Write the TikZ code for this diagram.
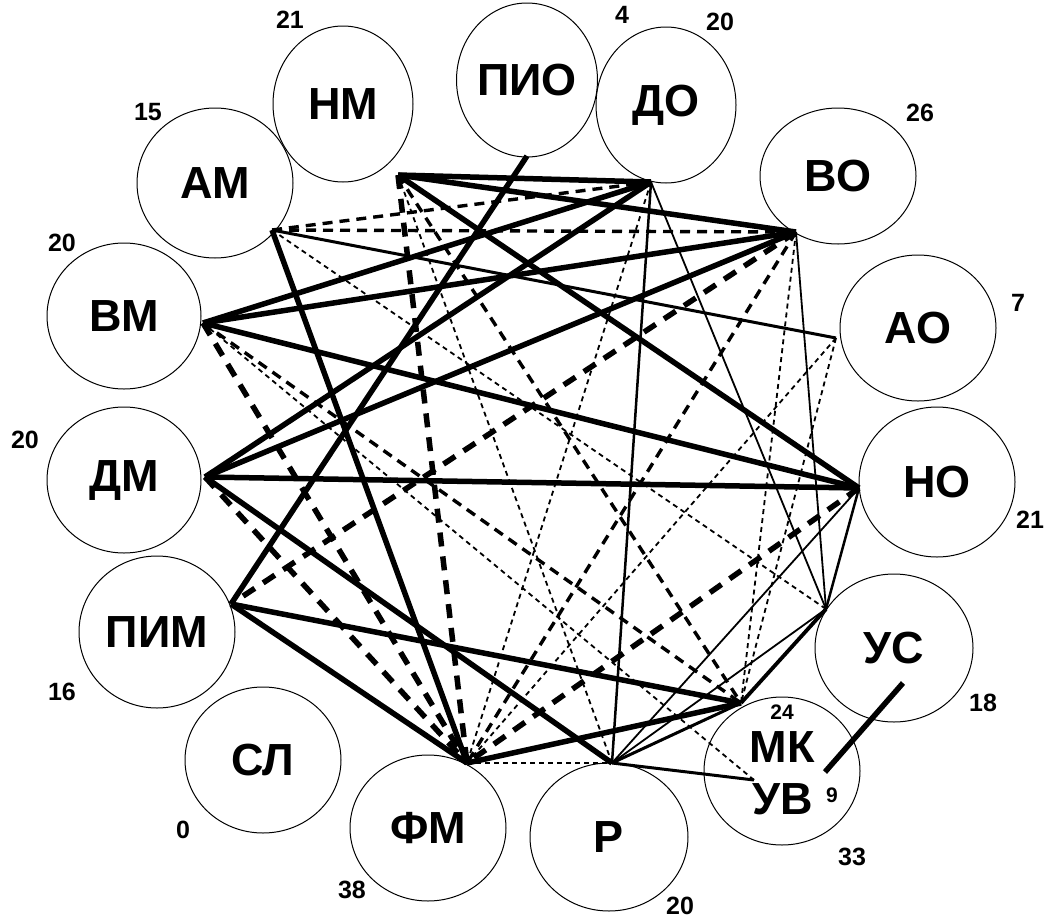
\documentclass[tikz,border=0pt]{standalone}
\usepackage{fontspec}
\setmainfont{Liberation Sans}
\usetikzlibrary{shapes.geometric}
\tikzset{
  bub/.style={draw, ellipse, line width=1pt, inner sep=0pt, font=\fontsize{45}{45}\selectfont\bfseries},
  lbl/.style={inner sep=0pt, font=\fontsize{45}{45}\selectfont\bfseries},
  num/.style={inner sep=0pt, font=\fontsize{25}{25}\selectfont\bfseries},
  nums/.style={inner sep=0pt, font=\fontsize{21}{21}\selectfont\bfseries},
  tk/.style={line width=5.5pt},
  md/.style={line width=3pt},
  tn/.style={line width=1.8pt},
  tkd/.style={line width=5.5pt, dash pattern=on 14pt off 10pt},
  mdd/.style={line width=3.4pt, dash pattern=on 10pt off 7pt},
  tnd/.style={line width=1.8pt, dash pattern=on 5pt off 4pt},
}
\begin{document}
\begin{tikzpicture}[x=1pt,y=-1pt]
\useasboundingbox (0,0) rectangle (1053,919);
% ellipses
\node[bub, minimum width=140pt, minimum height=156pt] (NM)  at (343,104) {НМ};
\node[bub, minimum width=140pt, minimum height=154pt] (PIO) at (527,80) {ПИО};
\node[bub, minimum width=140pt, minimum height=156pt] (DO)  at (666,105) {ДО};
\node[bub, minimum width=156pt, minimum height=136pt] (VO)  at (838,176) {ВО};
\node[bub, minimum width=156pt, minimum height=146pt] (AO)  at (918,328) {АО};
\node[bub, minimum width=156pt, minimum height=150pt] (NO)  at (937,482) {НО};
\node[bub, minimum width=158pt, minimum height=148pt] (US)  at (894,648) {УС};
\node[bub, minimum width=156pt, minimum height=148pt] (MKUV) at (782,771) {};
\node[bub, minimum width=158pt, minimum height=148pt] (R)   at (609,837) {Р};
\node[bub, minimum width=156pt, minimum height=146pt] (FM)  at (428,828) {ФМ};
\node[bub, minimum width=156pt, minimum height=146pt] (SL)  at (263,760) {СЛ};
\node[bub, minimum width=156pt, minimum height=152pt] (PIM) at (157,632) {ПИМ};
\node[bub, minimum width=154pt, minimum height=146pt] (DM)  at (124,480) {ДМ};
\node[bub, minimum width=154pt, minimum height=146pt] (VM)  at (124,316) {ВМ};
\node[bub, minimum width=156pt, minimum height=150pt] (AM)  at (215,183) {АМ};
\node[lbl] (MKt) at (782,747) {МК};
\node[lbl] (UVt) at (783,799) {УВ};
% numbers
\node[num] (nNM)  at (290,20) {21};
\node[num] (nPIO) at (622,15) {4};
\node[num] (nDO)  at (720,22) {20};
\node[num] (nVO)  at (920,113) {26};
\node[num] (nAO)  at (1018,303) {7};
\node[num] (nNO)  at (1030,520) {21};
\node[num] (nUS)  at (983,703) {18};
\node[nums] (nMK) at (782,712) {24};
\node[nums] (nUV) at (832,795) {9};
\node[num] (nMKUV) at (852,857) {33};
\node[num] (nR)   at (680,906) {20};
\node[num] (nFM)  at (352,890) {38};
\node[num] (nSL)  at (183,830) {0};
\node[num] (nPIM) at (62,692) {16};
\node[num] (nDM)  at (25,440) {20};
\node[num] (nVM)  at (62,243) {20};
\node[num] (nAM)  at (148,112) {15};
% hubs
\coordinate (hNM)  at (398,175);
\coordinate (hPIO) at (527,156);
\coordinate (hDO)  at (651,182);
\coordinate (hVO)  at (796,232);
\coordinate (hAO)  at (836,338);
\coordinate (hNO)  at (859,488);
\coordinate (hUS)  at (826,609);
\coordinate (hMK)  at (741,703);
\coordinate (hUV)  at (754,780);
\coordinate (hR)   at (612,763);
\coordinate (hFM)  at (467,763);
\coordinate (hPIM) at (231,604);
\coordinate (hDM)  at (205,477);
\coordinate (hVM)  at (203,323);
\coordinate (hAM)  at (272,230);
\coordinate (usA)  at (903,683);
\coordinate (usB)  at (825,772);
% thin dashed
\draw[tnd] (hAM) -- (hUS);
\draw[tnd] (hVM) -- (hUV);
\draw[tnd] (hNM) -- (hR);
\draw[tnd] (hVO) -- (hMK);
\draw[tnd] (hAO) -- (hFM);
\draw[tnd] (hAO) -- (hMK);
\draw[tnd] (hDO) -- (hFM);
\draw[tnd] (hFM) -- (hR);
% medium dashed
\draw[mdd] (hAM) -- (hDO);
\draw[mdd] (hAM) -- (hVO);
\draw[mdd] (hVO) -- (hFM);
\draw[mdd] (hNM) -- (hMK);
\draw[mdd] (hVM) -- (hMK);
% thick dashed
\draw[tkd] (hNM) -- (hFM);
\draw[tkd] (hVM) -- (hFM);
\draw[tkd] (hDM) -- (hFM);
\draw[tkd] (hVO) -- (hPIM);
\draw[tkd] (hNO) -- (hFM);
% thin solid
\draw[tn] (hR) -- (hNO);
\draw[tn] (hR) -- (hUS);
\draw[tn] (hDO) -- (hUS);
\draw[tn] (hVO) -- (hUS);
% medium solid
\draw[md] (hAM) -- (hAO);
\draw[md] (hR) -- (hMK);
\draw[md] (hR) -- (hUV);
\draw[line width=2.5pt] (hR) -- (hDO);
\draw[line width=2.5pt] (hNO) -- (hUS);
\draw[line width=3.8pt] (hMK) -- (hUS);
% thick solid
\draw[tk] (hNM) -- (hDO);
\draw[tk] (hNM) -- (hVO);
\draw[tk] (hNM) -- (hNO);
\draw[tk] (hPIO) -- (hPIM);
\draw[tk] (hDO) -- (hVM);
\draw[tk] (hDO) -- (hDM);
\draw[tk] (hVO) -- (hVM);
\draw[tk] (hVO) -- (hDM);
\draw[tk] (hNO) -- (hVM);
\draw[tk] (hNO) -- (hDM);
\draw[tk] (hDM) -- (hR);
\draw[tk] (hAM) -- (hFM);
\draw[tk] (hPIM) -- (hFM);
\draw[tk] (hPIM) -- (hMK);
\draw[tk] (hFM) -- (hMK);
\draw[tk] (usA) -- (usB);
\end{tikzpicture}
\end{document}
